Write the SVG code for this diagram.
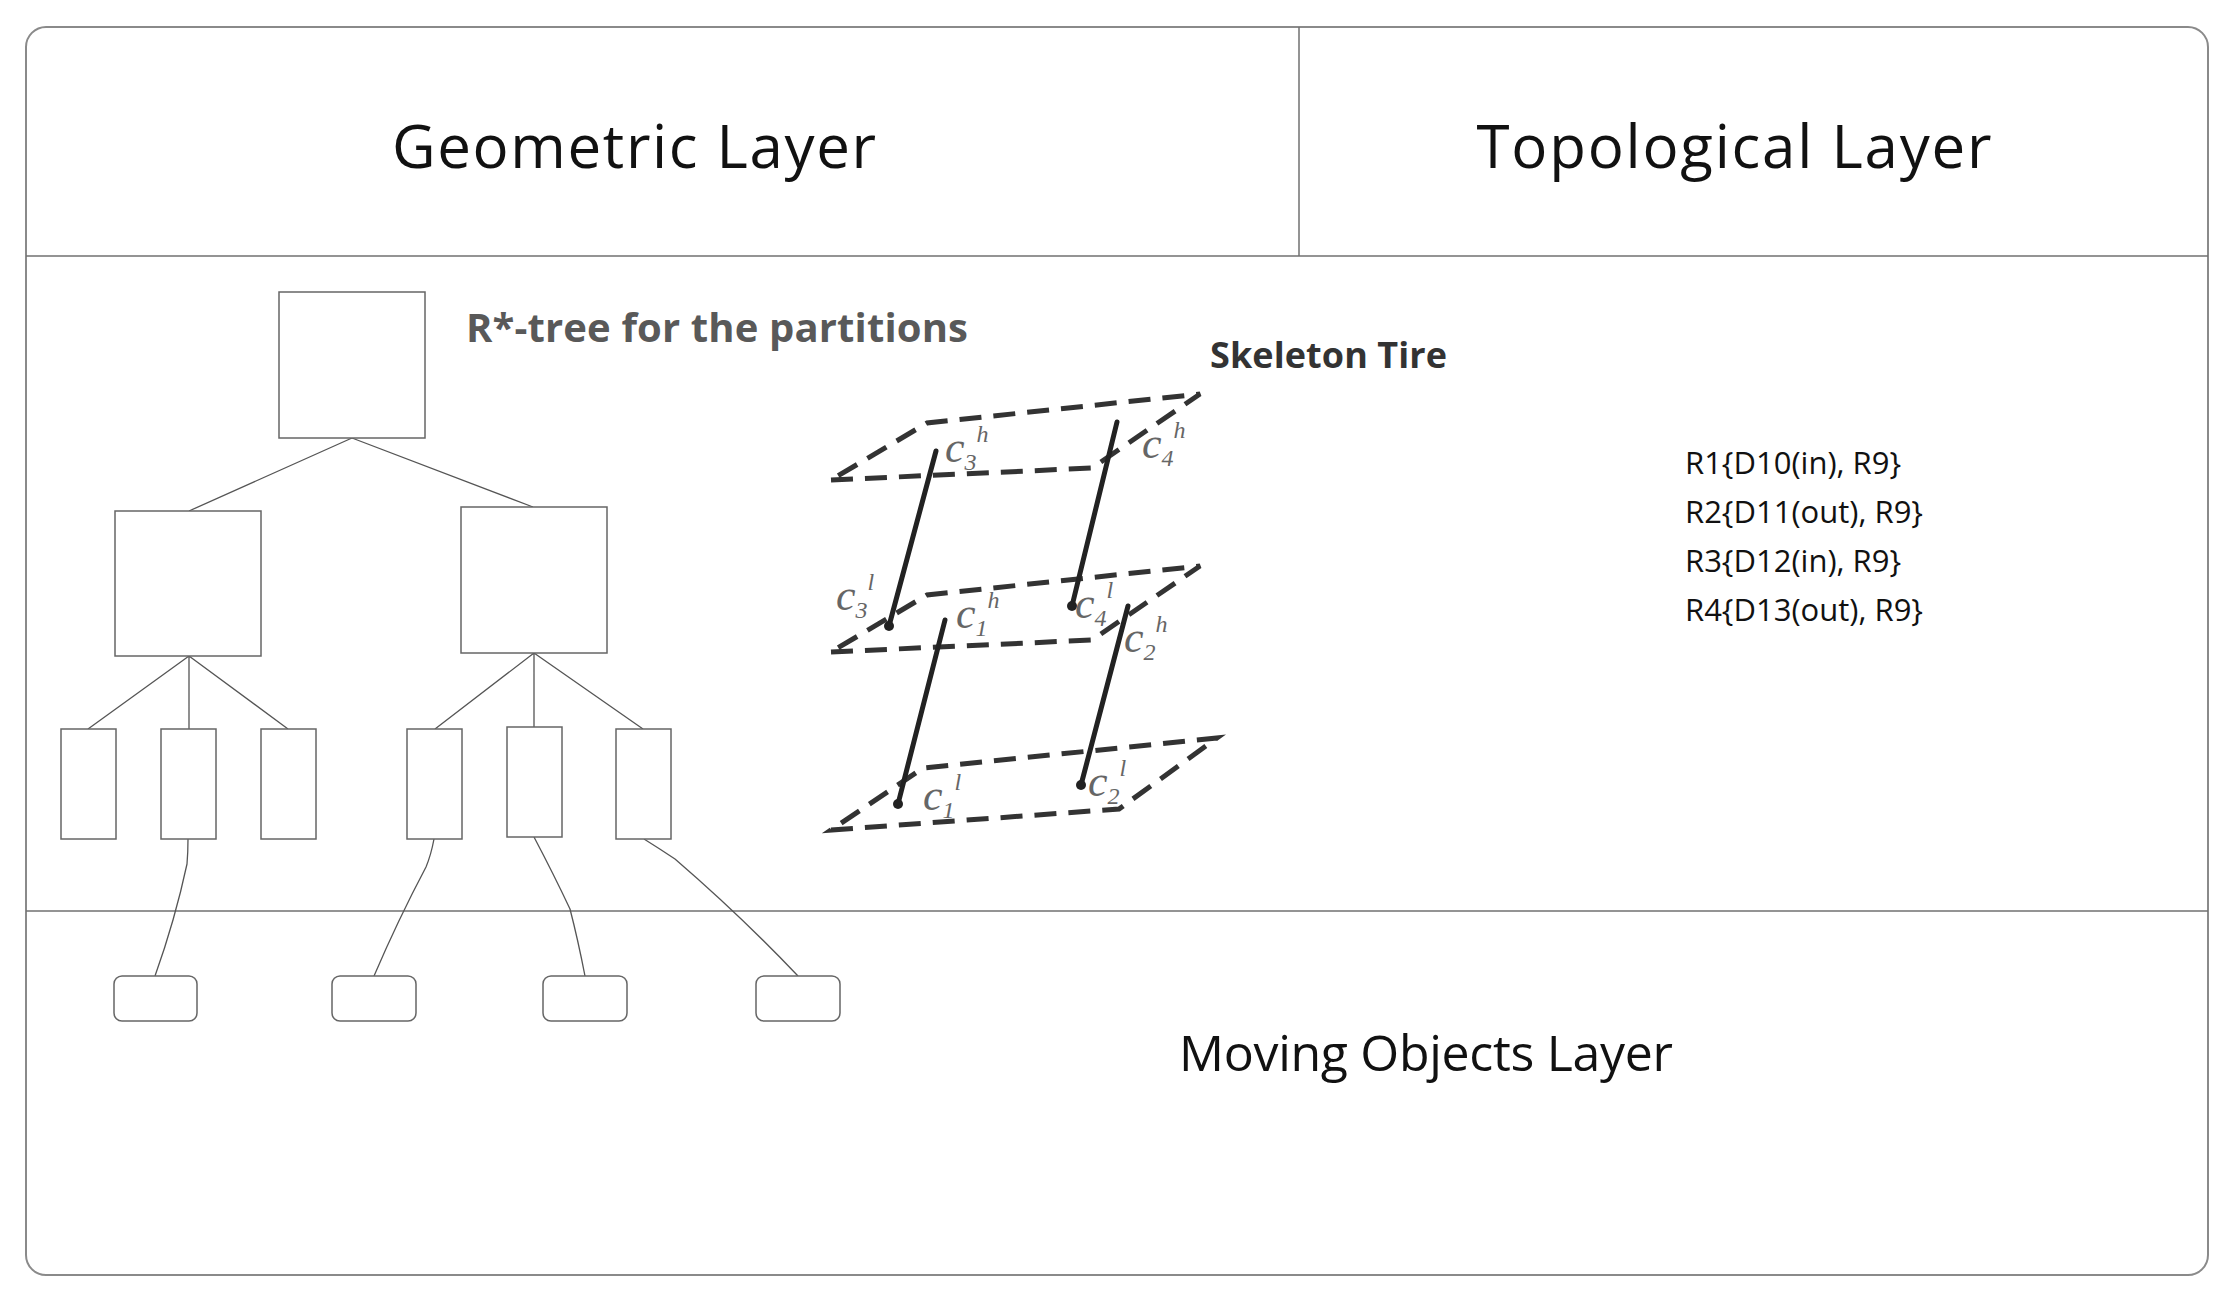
<svg xmlns="http://www.w3.org/2000/svg" width="2233" height="1299" viewBox="0 0 2233 1299">
<style>
.frame{fill:none;stroke:#8a8a8a;stroke-width:2}
.div{stroke:#707070;stroke-width:1.5}
.node{fill:#fff;stroke:#666;stroke-width:1.5}
.edge{fill:none;stroke:#555;stroke-width:1.3}
.hdr{font-family:"Open Sans","Liberation Sans",sans-serif;font-size:60px;fill:#111}
.rt{font-family:"Open Sans","Liberation Sans",sans-serif;font-size:31px;fill:#111}
.dash{fill:none;stroke:#333;stroke-width:5;stroke-dasharray:22 12}
.col{stroke:#222;stroke-width:5;stroke-linecap:round}
.c{font-family:"Liberation Serif",serif;font-style:italic;font-size:44px;fill:#666}
.s{font-size:24px}
</style>
<rect width="2233" height="1299" fill="#fff"/>
<rect class="frame" x="26" y="27" width="2182" height="1248" rx="20"/>
<line class="div" x1="26" y1="256" x2="2208" y2="256"/>
<line class="div" x1="1299" y1="27" x2="1299" y2="256"/>
<line class="div" x1="26" y1="911" x2="2208" y2="911"/>
<text class="hdr" x="634" y="168" text-anchor="middle" textLength="484">Geometric Layer</text>
<text class="hdr" x="1734" y="168" text-anchor="middle" textLength="515">Topological Layer</text>
<text class="hdr" x="1426" y="1071" text-anchor="middle" textLength="494" style="font-size:50px">Moving Objects Layer</text>
<text x="466" y="342" font-family="'Open Sans','Liberation Sans',sans-serif" font-weight="bold" font-size="40" fill="#595959" textLength="502">R*-tree for the partitions</text>
<text x="1210" y="368" font-family="'Open Sans','Liberation Sans',sans-serif" font-weight="bold" font-size="36" fill="#333" textLength="237">Skeleton Tire</text>
<g id="rlist">
<text class="rt" x="1685" y="474">R1{D10(in), R9}</text>
<text class="rt" x="1685" y="523">R2{D11(out), R9}</text>
<text class="rt" x="1685" y="572">R3{D12(in), R9}</text>
<text class="rt" x="1685" y="621">R4{D13(out), R9}</text>
</g>
<g id="connectors">
<path class="edge" d="M352 438 L189 511 M352 438 L533 507"/>
<path class="edge" d="M189 656 L88 729 M189 656 L189 729 M189 656 L288 729"/>
<path class="edge" d="M534 653 L435 729 M534 653 L534 727 M534 653 L643 729"/>
<path class="edge" d="M188 839 Q188 852 187 864 Q175 920 155 976"/>
<path class="edge" d="M434 839 Q431 855 426 867 Q398 920 374 976"/>
<path class="edge" d="M534 837 Q554 875 570 909 Q578 940 585 976"/>
<path class="edge" d="M644 839 Q660 849 675 859 Q740 915 798 976"/>
</g>
<g id="root"><rect class="node" x="279" y="292" width="146" height="146"/></g>
<g id="mid1"><rect class="node" x="115" y="511" width="146" height="145"/></g>
<g id="mid2"><rect class="node" x="461" y="507" width="146" height="146"/></g>
<g id="leaf1"><rect class="node" x="61" y="729" width="55" height="110"/></g>
<g id="leaf2"><rect class="node" x="161" y="729" width="55" height="110"/></g>
<g id="leaf3"><rect class="node" x="261" y="729" width="55" height="110"/></g>
<g id="leaf4"><rect class="node" x="407" y="729" width="55" height="110"/></g>
<g id="leaf5"><rect class="node" x="507" y="727" width="55" height="110"/></g>
<g id="leaf6"><rect class="node" x="616" y="729" width="55" height="110"/></g>
<g id="obj1"><rect class="node" x="114" y="976" width="83" height="45" rx="8"/></g>
<g id="obj2"><rect class="node" x="332" y="976" width="84" height="45" rx="8"/></g>
<g id="obj3"><rect class="node" x="543" y="976" width="84" height="45" rx="8"/></g>
<g id="obj4"><rect class="node" x="756" y="976" width="84" height="45" rx="8"/></g>
<g id="skeleton">
<path class="dash" d="M831 480 L1092 468 L1200 394 L927 423 Z"/>
<path class="dash" d="M831 652 L1092 640 L1200 566 L927 595 Z"/>
<path class="dash" d="M831 830 L1119 809 L1217 738 L923 768 Z"/>
<line class="col" x1="936" y1="451" x2="889" y2="626"/>
<line class="col" x1="1117" y1="422" x2="1072" y2="606"/>
<line class="col" x1="945" y1="620" x2="898" y2="804"/>
<line class="col" x1="1128" y1="606" x2="1081" y2="785"/>
<circle cx="889" cy="626" r="5" fill="#222"/><circle cx="898" cy="804" r="5" fill="#222"/>
<circle cx="1072" cy="606" r="5" fill="#222"/><circle cx="1081" cy="785" r="5" fill="#222"/>
<text class="c" x="945" y="462">c<tspan class="s" dy="8">3</tspan><tspan class="s" dy="-28">h</tspan></text>
<text class="c" x="1142" y="458">c<tspan class="s" dy="8">4</tspan><tspan class="s" dy="-28">h</tspan></text>
<text class="c" x="836" y="610">c<tspan class="s" dy="8">3</tspan><tspan class="s" dy="-28">l</tspan></text>
<text class="c" x="956" y="628">c<tspan class="s" dy="8">1</tspan><tspan class="s" dy="-28">h</tspan></text>
<text class="c" x="1075" y="618">c<tspan class="s" dy="8">4</tspan><tspan class="s" dy="-28">l</tspan></text>
<text class="c" x="1124" y="652">c<tspan class="s" dy="8">2</tspan><tspan class="s" dy="-28">h</tspan></text>
<text class="c" x="923" y="810">c<tspan class="s" dy="8">1</tspan><tspan class="s" dy="-28">l</tspan></text>
<text class="c" x="1088" y="796">c<tspan class="s" dy="8">2</tspan><tspan class="s" dy="-28">l</tspan></text>
</g>
</svg>
